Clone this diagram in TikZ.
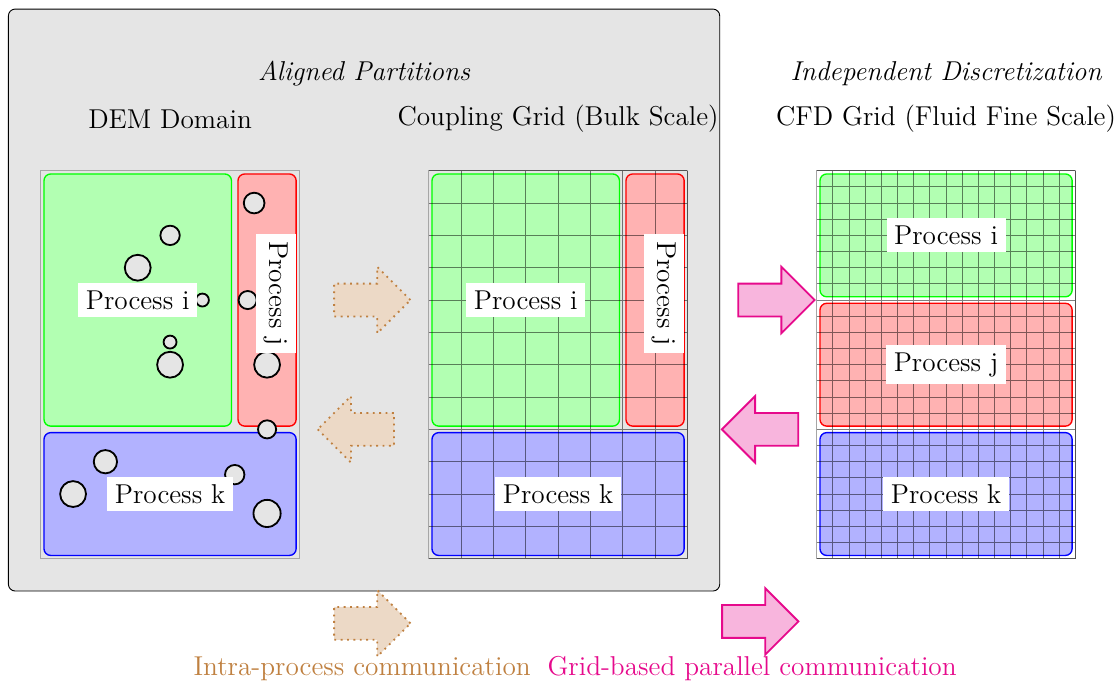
\documentclass[tikz,border=0pt]{standalone}
\usetikzlibrary{shapes.arrows}
\definecolor{gridpink}{RGB}{230,10,140}
\begin{document}
\begin{tikzpicture}[
        procLabel/.style={fill=white, font=\large},
        titleNode/.style={font=\large},
        partI/.style={draw=green, fill=green!30, semithick, rounded corners=3pt},
        partJ/.style={draw=red, fill=red!30, semithick, rounded corners=3pt},
        partK/.style={draw=blue, fill=blue!30, semithick, rounded corners=3pt},
        gridLine/.style={black, opacity=0.5, line width=0.45pt},
        particle/.style={draw, thick, fill=gray!20},
        commArrow/.style={single arrow, minimum height=1.18cm, minimum width=1cm, single arrow head extend=0.26cm, inner xsep=0pt, inner ysep=0.24cm},
        intraArrow/.style={commArrow, draw=brown, dotted, thick, fill=brown!30},
        gridArrow/.style={commArrow, draw=gridpink, thick, fill=gridpink!30}
    ]
        \useasboundingbox (-0.63,-1.95) rectangle (16.69,8.64);

        % Aligned box
        \draw[rounded corners=3pt, fill=gray!20] (-0.5,-0.5) rectangle (10.5,8.5);

        % Domain frames
        \foreach \dx in {0,6,12}
            \draw[gray!70] (\dx,0) rectangle ++(4,6);

        % Aligned partitions
        \foreach \dx in {0,6} {
            \draw[partI] (\dx+0.05,2.05) rectangle (\dx+2.95,5.95);
            \draw[partJ] (\dx+3.05,2.05) rectangle (\dx+3.95,5.95);
            \draw[partK] (\dx+0.05,0.05) rectangle (\dx+3.95,1.95);
        }

        % Independent partitions
        \draw[partI] (12.05,4.05) rectangle (15.95,5.95);
        \draw[partJ] (12.05,2.05) rectangle (15.95,3.95);
        \draw[partK] (12.05,0.05) rectangle (15.95,1.95);

        % Grids
        \draw[gridLine, step=0.5] (6,0) grid (10,6);
        \draw[gridLine, step=0.25] (12,0) grid (16,6);

        % Particles
        \foreach \x/\y/\r in {3.3/5.5/0.16, 2.0/5.0/0.15, 1.5/4.5/0.2, 2.5/4.0/0.1,
                3.2/4.0/0.14, 2.0/3.35/0.1, 2.0/3.0/0.2, 3.5/3.0/0.2, 3.5/2.0/0.14,
                1.0/1.5/0.18, 3.0/1.3/0.15, 0.5/1.0/0.2, 3.5/0.7/0.21}
            \draw[particle] (\x,\y) circle (\r);

        % Process labels
        \node[procLabel] (demI) at (1.5,4) {Process i};
        \node[procLabel, rotate=-90] (demJ) at (3.64,4.1) {Process j};
        \node[procLabel] (demK) at (2,1) {Process k};
        \node[procLabel] (cplI) at (7.5,4) {Process i};
        \node[procLabel, rotate=-90] (cplJ) at (9.64,4.1) {Process j};
        \node[procLabel] (cplK) at (8,1) {Process k};
        \node[procLabel] (cfdI) at (14,5) {Process i};
        \node[procLabel] (cfdJ) at (14,3) {Process j};
        \node[procLabel] (cfdK) at (14,1) {Process k};

        % Titles
        \node[titleNode, font=\large\itshape] (aligned) at (5,7.5) {Aligned Partitions};
        \node[titleNode] (demTitle) at (2,6.8) {DEM Domain};
        \node[titleNode] (cplTitle) at (8,6.8) {Coupling Grid (Bulk Scale)};
        \node[titleNode, font=\large\itshape] (indep) at (14,7.5) {Independent Discretization};
        \node[titleNode] (cfdTitle) at (14,6.8) {CFD Grid (Fluid Fine Scale)};

        % Communication arrows
        \node[intraArrow] (toCpl) at (5,4) {};
        \node[intraArrow, shape border rotate=180] (toDem) at (5,2) {};
        \node[gridArrow] (toCfd) at (11.25,4) {};
        \node[gridArrow, shape border rotate=180] (toCplGrid) at (11.25,2) {};

        % Legend
        \node[intraArrow] (legIntra) at (5,-1) {};
        \node[gridArrow] (legGrid) at (11,-0.97) {};
        \node[font=\large, text=brown] (legIntraText) at (4.97,-1.7) {Intra-process communication};
        \node[font=\large, text=gridpink] (legGridText) at (11,-1.7) {Grid-based parallel communication};
    \end{tikzpicture}
\end{document}
